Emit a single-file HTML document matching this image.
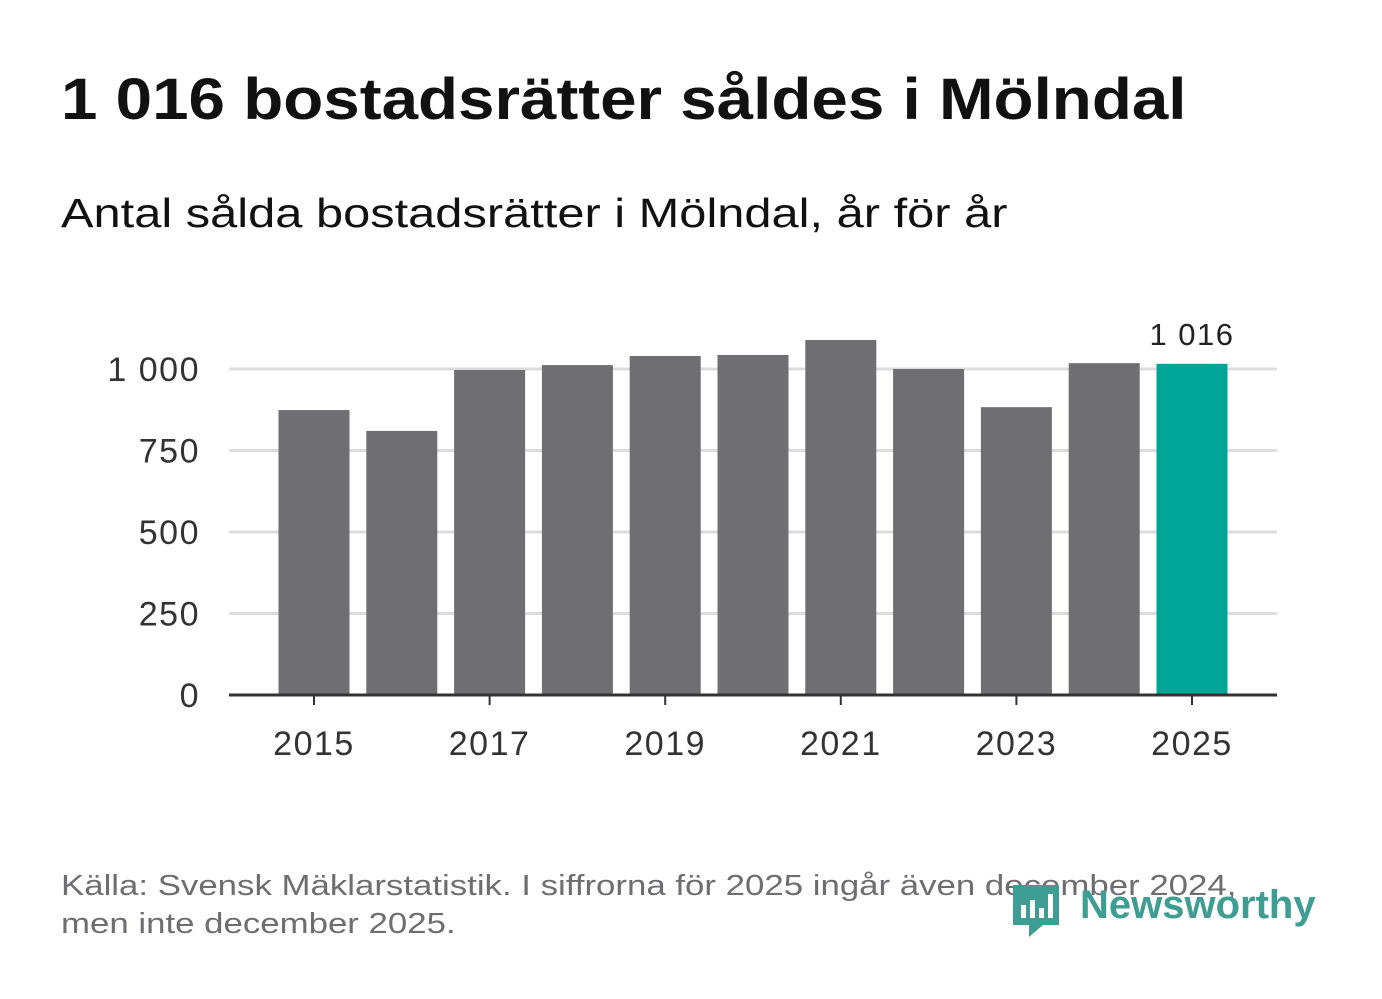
<!DOCTYPE html>
<html><head><meta charset="utf-8">
<style>
body{margin:0;background:#fff;font-family:"Liberation Sans","DejaVu Sans",sans-serif;}
#wrap{position:relative;width:1382px;height:999px;overflow:hidden;}
#title{position:absolute;left:61px;top:66px;font-size:58px;font-weight:bold;color:#111;margin:0;transform:scaleX(1.13);transform-origin:left top;white-space:nowrap}
#sub{position:absolute;left:61px;top:190px;font-size:41px;color:#111;transform:scaleX(1.19);transform-origin:left top;white-space:nowrap}
#src{position:absolute;left:61px;top:867px;font-size:29px;color:#6e6e72;line-height:38px;transform:scaleX(1.2);transform-origin:left top;white-space:nowrap}
svg{position:absolute;left:0;top:0}
</style></head><body>
<div id="wrap">
<h1 id="title">1 016 bostadsrätter såldes i Mölndal</h1>
<div id="sub">Antal sålda bostadsrätter i Mölndal, år för år</div>
<svg id="chart" width="1382" height="999"></svg>
<div id="src">Källa: Svensk Mäklarstatistik. I siffrorna för 2025 ingår även december 2024,<br>men inte december 2025.</div>
<svg width="1382" height="999" style="pointer-events:none">
<path d="M1013 885 h46 v40 h-16 l-14 12 v-12 h-16 z" fill="#3f9e93"/>
<rect x="1021" y="905" width="5" height="13" fill="#fff"/><rect x="1030" y="900" width="5" height="18" fill="#fff"/><rect x="1039" y="908" width="5" height="10" fill="#fff"/><rect x="1048" y="894" width="5" height="24" fill="#fff"/>
<text x="1080" y="918" font-size="40" font-weight="bold" fill="#3f9e93" font-family="Liberation Sans, sans-serif">Newsworthy</text>
</svg>
</div>
<script>
const years=[2015,2016,2017,2018,2019,2020,2021,2022,2023,2024,2025];
const values=[874,810,997,1012,1040,1043,1089,1000,883,1018,1016];
const yTicks=[0,250,500,750,1000];
const yTickLabels=["0","250","500","750","1 000"];
const xTickYears=[2015,2017,2019,2021,2023,2025];
const highlightLabel="1 016";
const svg=document.getElementById('chart');
const NS="http://www.w3.org/2000/svg";
const x0=229,x1=1277,yBase=695,pxPer=0.326;
const firstC=314,step=87.8;
const xc=y=>firstC+step*(y-years[0]);
const yv=v=>yBase-v*pxPer;
function mk(t,a){const e=document.createElementNS(NS,t);for(const k in a)e.setAttribute(k,a[k]);svg.appendChild(e);return e;}
yTicks.forEach((t,i)=>{
 if(t>0){const g=mk('line',{x1:x0,x2:x1,y1:yv(t),y2:yv(t),stroke:'#dcdcdc','stroke-width':3});
 
 }
 const l=mk('text',{x:200,y:yv(t)+12,'text-anchor':'end','font-size':34,fill:'#333','letter-spacing':'1.5'});l.textContent=yTickLabels[i];
 
 
});
values.forEach((v,i)=>{
 const c=xc(years[i]);
 const b=mk('rect',{x:c-35.5,y:yv(v),width:71,height:v*pxPer,fill:i===years.length-1?'#00a598':'#6f6e73'});
 
 
});
const last=values.length-1;
const lb=mk('text',{x:xc(years[last]),y:yv(values[last])-19,'text-anchor':'middle','font-size':31,fill:'#222','letter-spacing':'1.5'});lb.textContent=highlightLabel;


const ax=mk('line',{x1:x0,x2:x1,y1:yBase,y2:yBase,stroke:'#333','stroke-width':3});


xTickYears.forEach(y=>{
 const c=xc(y);
 const t=mk('line',{x1:c,x2:c,y1:yBase,y2:yBase+10,stroke:'#333','stroke-width':2});
 
 
 const l=mk('text',{x:c,y:755,'text-anchor':'middle','font-size':34,fill:'#333','letter-spacing':'1.5'});l.textContent=y;
 
 
});
</script>
</body></html>
